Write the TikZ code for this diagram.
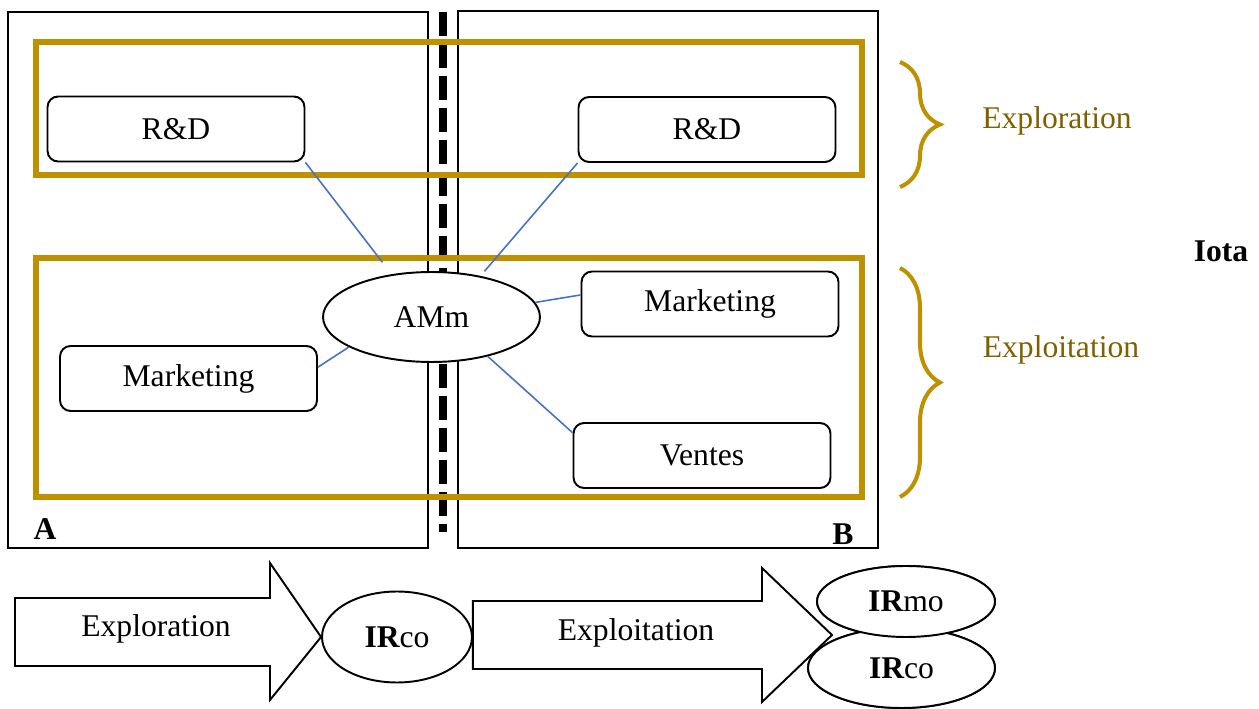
\documentclass[tikz,border=0pt]{standalone}
\usepackage{xcolor}
\usepackage{fontspec}
\setmainfont{Liberation Serif}
\usepackage{tikz}
\usetikzlibrary{shapes.geometric, positioning, calc, decorations.pathreplacing}
\definecolor{mygold}{RGB}{191,144,0}
\definecolor{mydarkgold}{RGB}{127,96,0}
\definecolor{myblue}{RGB}{68,114,196}
\tikzset{
  unit/.style={rectangle, draw=black, fill=white, rounded corners=6pt,
    minimum width=5.14cm, minimum height=1.3cm, inner sep=0pt,
    line width=1.1pt},
  actor/.style={ellipse, draw=black, fill=white, inner sep=0pt,
    line width=1.1pt},
  frame/.style={draw=black, line width=1.1pt},
  zone/.style={draw=mygold, line width=3.4pt},
  divider/.style={draw=black, line width=4pt, dash pattern=on 0.48cm off 0.16cm},
  link/.style={draw=myblue, line width=0.9pt},
  zonebrace/.style={draw=mygold, line width=2.3pt,
    decorate, decoration={brace, amplitude=0.8cm}},
  flow/.style={draw=black, fill=white, line width=1.1pt, line join=miter},
  zonelabel/.style={color=mydarkgold}
}

\begin{document}
\begin{tikzpicture}[x=0.02cm, y=-0.02cm, font=\fontsize{18}{21.6}\selectfont]
  \useasboundingbox (0,0) rectangle (1259,709);

  % Firms A and B
  \draw[frame] (8,12) rectangle (428,548);
  \draw[frame] (458,11) rectangle (878,548);
  \node[font=\fontsize{18}{21.6}\selectfont\bfseries] (lblA) at (45,529) {A};
  \node[font=\fontsize{18}{21.6}\selectfont\bfseries] (lblB) at (843,534) {B};

  % Boundary between firms
  \coordinate (dtop) at (443,12);
  \coordinate (dbot) at (443,532);
  \draw[divider] (dtop) -- (dbot);

  % Exploration and exploitation zones
  \draw[zone] (36,42) rectangle (862,175);
  \draw[zone] (36,258) rectangle (862,497);

  % Braces and zone labels
  \coordinate (b1top) at (900,62);
  \coordinate (b1bot) at (900,187);
  \coordinate (b2top) at (900,268);
  \coordinate (b2bot) at (900,497);
  \draw[zonebrace] (b1top) -- (b1bot);
  \draw[zonebrace] (b2top) -- (b2bot);
  \node[zonelabel] (lblexplo) at (1057,121) {Exploration};
  \node[zonelabel] (lblexploit) at (1061,350) {Exploitation};
  \node[font=\fontsize{18}{21.6}\selectfont\bfseries] (iota) at (1221,251) {Iota};

  % Units
  \node[unit] (rdl) at (176,129) {R\&D};
  \node[unit] (rdr) at (707,129.5) {R\&D};
  \node[unit] (mkr) at (710,304) {Marketing};
  \node[unit] (mkl) at (188.5,378.5) {Marketing};
  \node[unit] (vts) at (702,455.5) {Ventes};

  % Central actor
  \node[actor, minimum width=4.34cm, minimum height=1.8cm] (amm) at (431.5,317) {AMm};

  % Links
  \draw[link, shorten >=0.3cm] (rdl.south east) -- (amm.133);
  \draw[link, shorten >=0.12cm] (rdr.south west) -- (amm.40);
  \draw[link] (amm.8) -- (mkr.176);
  \draw[link] (amm.200) -- (mkl.5);
  \draw[link] (amm.-35) -- (vts.170);

  % Outcomes
  \node[actor, minimum width=3.0cm, minimum height=1.82cm] (irco) at (397,637) {{\bfseries IR}co};
  \node[actor, minimum width=3.74cm, minimum height=1.6cm] (ircob) at (901.5,668) {{\bfseries IR}co};
  \node[actor, minimum width=3.56cm, minimum height=1.42cm] (irmo) at (906,601.5) {{\bfseries IR}mo};

  % Block arrows
  \draw[flow] (15,598) -- (270,598) -- (270,563) -- (irco.west) -- (270,700)
    -- (270,666) -- (15,666) -- cycle;
  \node (explo) at (156,629) {Exploration};
  \draw[flow] (irco.east |- 0,601) -- (762,601) -- (762,568) -- (832,635)
    -- (762,702) -- (762,669) -- (irco.east |- 0,669) -- cycle;
  \node (exploit) at (636,633) {Exploitation};

  % Overlap of the two outcomes
  \node[actor, minimum width=3.74cm, minimum height=1.6cm] at (ircob) {{\bfseries IR}co};
  \node[actor, minimum width=3.56cm, minimum height=1.42cm] at (irmo) {{\bfseries IR}mo};
\end{tikzpicture}
\end{document}
